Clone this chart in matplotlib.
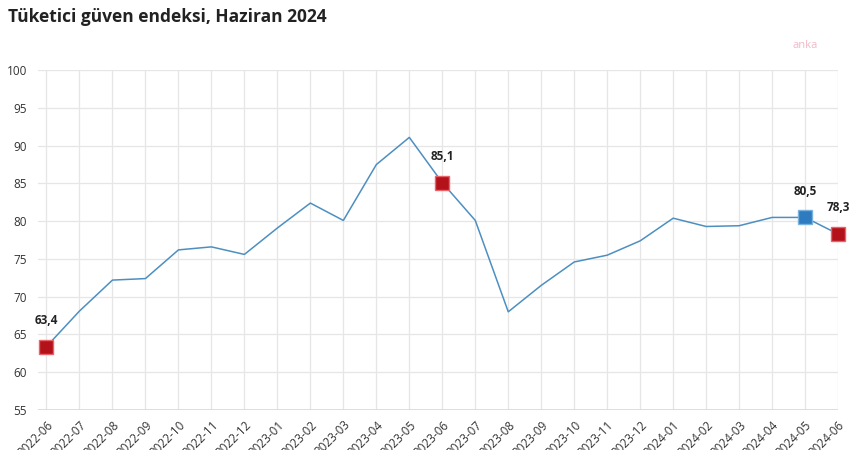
import matplotlib
matplotlib.use("Agg")
import matplotlib.pyplot as plt

plt.rcParams['font.family'] = ['Open Sans', 'DejaVu Sans']

#data
months = ["2022-06", "2022-07", "2022-08", "2022-09", "2022-10", "2022-11", "2022-12",
          "2023-01", "2023-02", "2023-03", "2023-04", "2023-05", "2023-06", "2023-07",
          "2023-08", "2023-09", "2023-10", "2023-11", "2023-12", "2024-01", "2024-02",
          "2024-03", "2024-04", "2024-05", "2024-06"]
values = [63.4, 68.1, 72.2, 72.4, 76.2, 76.6, 75.6, 79.1, 82.4, 80.1, 87.5, 91.1, 85.1,
          80.1, 68.0, 71.5, 74.6, 75.5, 77.4, 80.4, 79.3, 79.4, 80.5, 80.5, 78.3]
red_marks = ["2022-06", "2023-06", "2024-06"]
blue_marks = ["2024-05"]
yticks = [55, 60, 65, 70, 75, 80, 85, 90, 95, 100]

fig = plt.figure(figsize=(8.5, 4.5), dpi=100)
ax = fig.add_axes([0.045, 0.089, 0.941, 0.755])

x = list(range(len(months)))
ax.plot(x, values, color="#4d8fc0", linewidth=1.1, zorder=3)

def mark(names, face, edge):
    for n in names:
        i = months.index(n)
        ax.plot(i, values[i], marker="s", markersize=10.5, color=face,
                markeredgecolor=edge, markeredgewidth=1, zorder=4, clip_on=False)
        lbl = ("%.1f" % values[i]).replace(".", ",")
        ax.annotate(lbl, (i, values[i]), xytext=(0, 19), textcoords="offset points",
                    ha="center", va="center", fontsize=8.5, fontweight="bold",
                    color="#222222", zorder=5, annotation_clip=False)

mark(red_marks, "#b3121b", "#e8646a")
mark(blue_marks, "#2f7bbf", "#7ab2de")

ax.set_xlim(-0.25, len(months) - 1)
ax.set_ylim(55, 100)
ax.set_yticks(yticks)
ax.set_xticks(x)
ax.set_xticklabels(months, rotation=45, ha="right", rotation_mode="anchor")
ax.tick_params(axis="x", length=0, pad=6, labelsize=8.5, labelcolor="#333333")
ax.tick_params(axis="y", length=0, pad=8, labelsize=8.5, labelcolor="#333333")
ax.grid(True, color="#e6e6e6", linewidth=0.9)
ax.set_axisbelow(True)
for s in ax.spines.values():
    s.set_visible(False)
ax.axhline(55, color="#d9d9d9", linewidth=1.2, zorder=1)

fig.text(0.009, 0.962, "Tüketici güven endeksi, Haziran 2024", fontsize=12.5,
         fontweight="bold", color="#222222", va="center", ha="left")
fig.text(0.947, 0.898, "anka", fontsize=8, color="#f2b8c6", ha="center", va="center")

fig.savefig("out.png", dpi=100)
